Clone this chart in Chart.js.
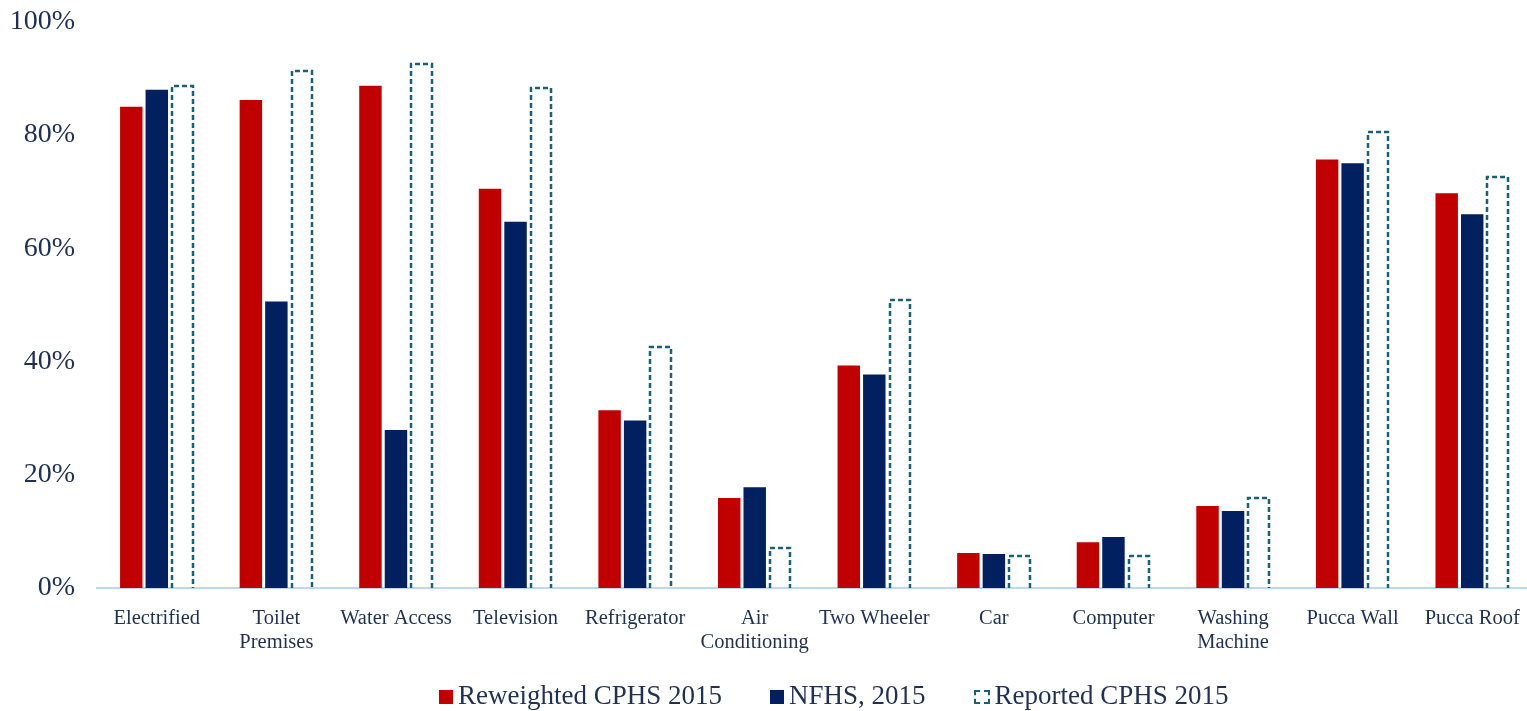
<!DOCTYPE html>
<html>
<head>
<meta charset="utf-8">
<script src="https://cdn.jsdelivr.net/npm/chart.js@4.4.1/dist/chart.umd.min.js"></script>
<style>
  html, body { margin: 0; padding: 0; background: #ffffff; }
  #outer { width: 1527px; height: 711px; position: relative; overflow: hidden; }
  #wrap { position: absolute; left: 0; top: -9px; width: 1532px; height: 720px; }
  #legend {
    position: absolute; left: 439px; top: 680px; height: 28px;
    display: flex; align-items: baseline; gap: 48px;
    font-family: "Liberation Serif", "DejaVu Serif", serif; font-size: 27px; color: #1F3050;
    white-space: nowrap;
  }
  #legend .item { display: flex; align-items: baseline; }
  #legend .box { display: inline-block; width: 14px; height: 14px; margin-right: 5px; box-sizing: border-box; }
</style>
</head>
<body>
<div id="outer">
  <div id="wrap"><canvas id="c"></canvas></div>
  <div id="legend"></div>
</div>
<script>
// Household amenities: share of households (%)
const categories = [
  'Electrified', ['Toilet', 'Premises'], 'Water Access', 'Television', 'Refrigerator',
  ['Air', 'Conditioning'], 'Two Wheeler', 'Car', 'Computer', ['Washing', 'Machine'],
  'Pucca Wall', 'Pucca Roof'
];
const reweightedCPHS = [85.0, 86.2, 88.7, 70.5, 31.4, 15.9, 39.3, 6.2, 8.1, 14.5, 75.7, 69.7];
const nfhs = [88.0, 50.6, 27.9, 64.7, 29.6, 17.8, 37.7, 6.0, 9.0, 13.6, 75.0, 66.0];
const reportedCPHS = [88.9, 91.4, 92.8, 88.5, 42.7, 7.2, 51.0, 5.8, 5.8, 16.0, 80.8, 72.7];
const seriesNames = ['Reweighted CPHS 2015', 'NFHS, 2015', 'Reported CPHS 2015'];
const yTicks = [0, 20, 40, 60, 80, 100];

const RED = '#C00000';
const NAVY = '#002060';
const TEAL = '#1A6077';
const TEXT = '#1F3050';
const FONT = '"Liberation Serif", "DejaVu Serif", serif';

// Outlined dashed bars: stroke left, top and right edges of each bar element
const dashedBars = {
  id: 'dashedBars',
  afterDatasetsDraw(chart) {
    const meta = chart.getDatasetMeta(2);
    const ctx = chart.ctx;
    ctx.save();
    ctx.strokeStyle = TEAL;
    ctx.lineWidth = 2.5;
    ctx.setLineDash([5, 3]);
    meta.data.forEach(el => {
      const p = el.getProps(['x', 'y', 'base', 'width'], true);
      const l = Math.round(p.x - p.width / 2) + 1;
      const r = Math.round(p.x + p.width / 2) - 1;
      const t = Math.round(p.y) + 1;
      const b = Math.round(p.base);
      ctx.beginPath();
      ctx.moveTo(l, b);
      ctx.lineTo(l, t);
      ctx.lineTo(r, t);
      ctx.lineTo(r, b);
      ctx.stroke();
    });
    ctx.restore();
  }
};

// HTML legend built from the chart's datasets
const htmlLegend = {
  id: 'htmlLegend',
  afterUpdate(chart) {
    const box = document.getElementById('legend');
    box.innerHTML = '';
    chart.data.datasets.forEach((ds, i) => {
      const item = document.createElement('div');
      item.className = 'item';
      const sw = document.createElement('span');
      sw.className = 'box';
      if (i === 2) {
        sw.style.border = '2px dashed ' + TEAL;
        sw.style.width = '16px';
        sw.style.marginRight = '5px';
      } else {
        sw.style.background = ds.backgroundColor;
      }
      const tx = document.createElement('span');
      tx.textContent = ds.label;
      item.appendChild(sw);
      item.appendChild(tx);
      box.appendChild(item);
    });
  }
};

new Chart(document.getElementById('c'), {
  type: 'bar',
  data: {
    labels: categories,
    datasets: [
      { label: seriesNames[0], data: reweightedCPHS, backgroundColor: RED },
      { label: seriesNames[1], data: nfhs, backgroundColor: NAVY },
      { label: seriesNames[2], data: reportedCPHS, backgroundColor: 'rgba(255,255,255,0)' }
    ]
  },
  options: {
    responsive: true,
    maintainAspectRatio: false,
    animation: false,
    datasets: { bar: { categoryPercentage: 0.64, barPercentage: 0.88, borderWidth: 0 } },
    layout: { padding: { top: 0, right: 0, left: 0, bottom: 45 } },
    scales: {
      x: {
        grid: { display: false },
        border: { display: true, color: '#BDD7EE', width: 2 },
        ticks: { color: TEXT, font: { family: FONT, size: 20.5, lineHeight: 1.17 }, padding: 11, maxRotation: 0, autoSkip: false }
      },
      y: {
        min: 0, max: 100,
        afterBuildTicks(axis) { axis.ticks = yTicks.map(v => ({ value: v })); },
        afterFit(axis) { axis.width = 97; },
        grid: { display: false },
        border: { display: false },
        ticks: { color: TEXT, font: { family: FONT, size: 28 }, padding: 14, callback: v => v + '%' }
      }
    },
    plugins: {
      tooltip: { enabled: false },
      legend: { display: false }
    }
  },
  plugins: [dashedBars, htmlLegend]
});
</script>
</body>
</html>
